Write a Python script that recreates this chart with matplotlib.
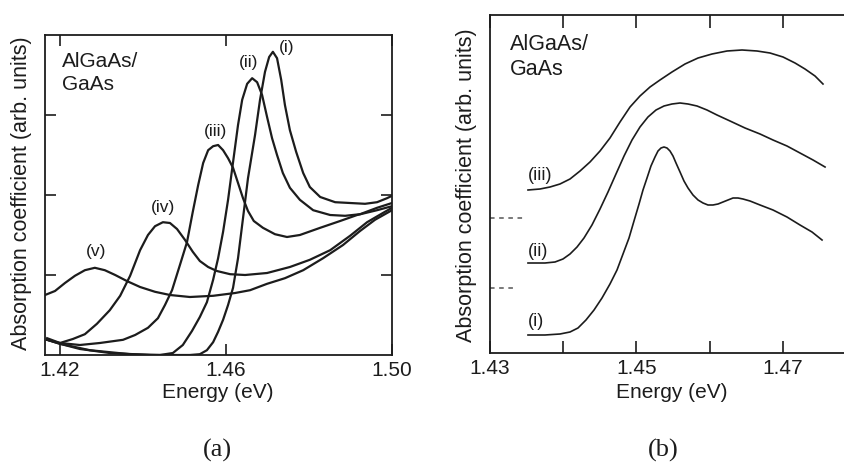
import matplotlib
matplotlib.use('Agg')
import matplotlib.pyplot as plt

plt.rcParams['font.family'] = ['Liberation Sans', 'DejaVu Sans']

# ---- panel (a): AlGaAs/GaAs absorption spectra, curves (i)-(v)
a_i_x = [1.4169, 1.4200, 1.4248, 1.4320, 1.4417, 1.4513, 1.4537, 1.4554, 1.4569, 1.4581,
         1.4593, 1.4605, 1.4617, 1.4629, 1.4641, 1.4653, 1.4670, 1.4682, 1.4694, 1.4704,
         1.4713, 1.4723, 1.4733, 1.4742, 1.4754, 1.4769, 1.4786, 1.4802, 1.4827, 1.4863,
         1.4899, 1.4935, 1.4964, 1.4988, 1.5000]
a_i_y = [0.19, 0.14, 0.075, 0.025, 0.0, 0.0, 0.01, 0.06, 0.16, 0.29,
         0.44, 0.625, 0.84, 1.21, 1.71, 2.21, 2.75, 3.19, 3.54, 3.725,
         3.79, 3.71, 3.44, 3.125, 2.81, 2.54, 2.275, 2.10, 1.975, 1.91,
         1.90, 1.89, 1.91, 1.96, 1.99]

a_ii_x = [1.4169, 1.4200, 1.4272, 1.4369, 1.4441, 1.4472, 1.4496, 1.4518, 1.4537, 1.4554,
          1.4569, 1.4581, 1.4593, 1.4605, 1.4617, 1.4629, 1.4639, 1.4651, 1.4663, 1.4675,
          1.4687, 1.4699, 1.4711, 1.4723, 1.4737, 1.4754, 1.4778, 1.4810, 1.4851, 1.4887,
          1.4923, 1.4964, 1.5000]
a_ii_y = [0.19, 0.14, 0.06, 0.01, 0.0, 0.025, 0.125, 0.30, 0.475, 0.66,
          0.94, 1.21, 1.54, 1.94, 2.41, 2.875, 3.19, 3.39, 3.46, 3.41,
          3.25, 2.975, 2.71, 2.50, 2.275, 2.09, 1.94, 1.81, 1.75, 1.74,
          1.76, 1.84, 1.90]

a_iii_x = [1.4169, 1.4200, 1.4248, 1.4296, 1.4352, 1.4381, 1.4412, 1.4436, 1.4453, 1.4470,
           1.4489, 1.4506, 1.4520, 1.4533, 1.4545, 1.4557, 1.4569, 1.4581, 1.4593, 1.4605,
           1.4617, 1.4629, 1.4641, 1.4653, 1.4667, 1.4689, 1.4718, 1.4747, 1.4778, 1.4827,
           1.4875, 1.4916, 1.4964, 1.5000]
a_iii_y = [0.19, 0.15, 0.125, 0.15, 0.19, 0.25, 0.34, 0.46, 0.625, 0.81,
           1.125, 1.41, 1.79, 2.125, 2.40, 2.56, 2.61, 2.625, 2.56, 2.46,
           2.34, 2.15, 1.96, 1.80, 1.675, 1.59, 1.51, 1.475, 1.50, 1.59,
           1.675, 1.75, 1.81, 1.86]

a_iv_x = [1.4169, 1.4200, 1.4231, 1.4260, 1.4289, 1.4320, 1.4345, 1.4369, 1.4393, 1.4412,
          1.4429, 1.4448, 1.4465, 1.4482, 1.4501, 1.4520, 1.4537, 1.4557, 1.4578, 1.4610,
          1.4646, 1.4699, 1.4754, 1.4802, 1.4851, 1.4899, 1.4940, 1.4978, 1.5000]
a_iv_y = [0.21, 0.15, 0.20, 0.26, 0.39, 0.56, 0.74, 0.99, 1.31, 1.50,
          1.61, 1.66, 1.65, 1.575, 1.44, 1.29, 1.175, 1.10, 1.05, 1.01,
          1.00, 1.025, 1.10, 1.19, 1.31, 1.49, 1.66, 1.775, 1.84]

a_v_x = [1.4164, 1.4188, 1.4212, 1.4236, 1.4260, 1.4284, 1.4308, 1.4333, 1.4361, 1.4393,
         1.4429, 1.4465, 1.4513, 1.4569, 1.4622, 1.4658, 1.4699, 1.4742, 1.4786, 1.4834,
         1.4882, 1.4923, 1.4959, 1.5000]
a_v_y = [0.75, 0.80, 0.90, 0.99, 1.06, 1.09, 1.06, 1.00, 0.925, 0.85,
         0.79, 0.75, 0.725, 0.74, 0.775, 0.81, 0.89, 0.96, 1.06, 1.21,
         1.375, 1.55, 1.69, 1.81]

a_labels = ['(i)', '(ii)', '(iii)', '(iv)', '(v)']
a_label_x = [1.4747, 1.4655, 1.4574, 1.4448, 1.4287]
a_label_y = [3.84, 3.65, 2.79, 1.84, 1.29]
a_xticks = [1.42, 1.46, 1.50]

# ---- panel (b): calculated spectra, curves offset vertically
b_i_x = [1.43519, 1.43751, 1.43956, 1.44093, 1.44202, 1.44311, 1.44421, 1.44530, 1.44639,
         1.44735, 1.44817, 1.44899, 1.44967, 1.45036, 1.45090, 1.45145, 1.45199, 1.45254,
         1.45295, 1.45336, 1.45377, 1.45418, 1.45459, 1.45500, 1.45541, 1.45596, 1.45650,
         1.45705, 1.45773, 1.45842, 1.45910, 1.45978, 1.46046, 1.46115, 1.46183, 1.46251,
         1.46320, 1.46388, 1.46456, 1.46552, 1.46689, 1.46866, 1.47057, 1.47235, 1.47399,
         1.47536]
b_i_y = [0.18, 0.18, 0.19, 0.21, 0.25, 0.33, 0.43, 0.55, 0.69,
         0.83, 0.99, 1.15, 1.32, 1.49, 1.63, 1.75, 1.87, 1.96,
         2.02, 2.05, 2.06, 2.05, 2.02, 1.97, 1.90, 1.81, 1.72,
         1.65, 1.58, 1.53, 1.50, 1.48, 1.48, 1.49, 1.51, 1.53,
         1.55, 1.55, 1.54, 1.52, 1.48, 1.43, 1.36, 1.28, 1.21,
         1.13]

b_ii_x = [1.43519, 1.43751, 1.43888, 1.43997, 1.44093, 1.44189, 1.44284, 1.44393, 1.44503,
          1.44612, 1.44721, 1.44831, 1.44940, 1.45049, 1.45158, 1.45268, 1.45377, 1.45486,
          1.45596, 1.45705, 1.45828, 1.45964, 1.46101, 1.46279, 1.46484, 1.46689, 1.46866,
          1.47057, 1.47235, 1.47413, 1.47577]
b_ii_y = [0.90, 0.90, 0.91, 0.94, 0.99, 1.06, 1.15, 1.28, 1.44,
          1.61, 1.79, 1.97, 2.13, 2.26, 2.36, 2.43, 2.47, 2.49,
          2.50, 2.49, 2.47, 2.43, 2.38, 2.32, 2.25, 2.19, 2.13,
          2.07, 2.00, 1.93, 1.86]

b_iii_x = [1.43519, 1.43683, 1.43820, 1.43956, 1.44093, 1.44230, 1.44366, 1.44503, 1.44639,
           1.44776, 1.44913, 1.45049, 1.45186, 1.45322, 1.45486, 1.45664, 1.45842, 1.46033,
           1.46238, 1.46443, 1.46648, 1.46825, 1.47003, 1.47167, 1.47303, 1.47440, 1.47549]
b_iii_y = [1.63, 1.64, 1.66, 1.69, 1.74, 1.82, 1.91, 2.02, 2.15,
           2.31, 2.46, 2.57, 2.66, 2.73, 2.81, 2.89, 2.95, 2.99,
           3.02, 3.03, 3.02, 3.00, 2.96, 2.90, 2.84, 2.77, 2.69]

b_labels = ['(i)', '(ii)', '(iii)']
b_label_y = [0.31, 1.02, 1.77]
b_zero_levels = [0.65, 1.35]
b_zero_ends = [1.4334, 1.4348]
b_xticks = [1.43, 1.44, 1.45, 1.46, 1.47]
b_xticklabels = ['1.43', '', '1.45', '', '1.47']

ink = '#1c1c1c'

fig = plt.figure(figsize=(8.45, 4.67), dpi=100)

# panel (a)
ax1 = fig.add_axes([45 / 845, 1 - 355 / 467, 347 / 845, 320 / 467])
for xs, ys in [(a_i_x, a_i_y), (a_ii_x, a_ii_y), (a_iii_x, a_iii_y),
               (a_iv_x, a_iv_y), (a_v_x, a_v_y)]:
    ax1.plot(xs, ys, color=ink, lw=1.6, solid_joinstyle='round')
for lab, lx, ly in zip(a_labels, a_label_x, a_label_y):
    ax1.text(lx, ly, lab, fontsize=12.5, ha='center', va='center', color=ink)
ax1.text(1.4205, 3.79, 'AlGaAs/\nGaAs', fontsize=15, ha='left', va='top',
         linespacing=1.25, color=ink)
ax1.set_xlim(1.41639, 1.50)
ax1.set_ylim(0, 4.0)
ax1.set_xticks(a_xticks)
ax1.set_xticklabels(['%.2f' % t for t in a_xticks])
ax1.set_yticks([1, 2, 3])
ax1.set_yticklabels([])
ax1.tick_params(direction='in', top=True, right=True, length=8, width=1.2,
                labelsize=15, pad=4, colors=ink)
for s in ax1.spines.values():
    s.set_linewidth(1.3)
    s.set_color(ink)

# panel (b)
ax2 = fig.add_axes([490 / 845, 1 - 353 / 467, 360 / 845, 338 / 467])
for xs, ys in [(b_i_x, b_i_y), (b_ii_x, b_ii_y), (b_iii_x, b_iii_y)]:
    ax2.plot(xs, ys, color=ink, lw=1.2, solid_joinstyle='round')
for lab, ly in zip(b_labels, b_label_y):
    ax2.text(1.4352, ly, lab, fontsize=13, ha='left', va='center', color=ink)
for lvl, end in zip(b_zero_levels, b_zero_ends):
    ax2.plot([1.43, end], [lvl, lvl], color='#555555', lw=1.1, ls=(0, (3, 3)))
ax2.text(1.4327, 3.19, 'AlGaAs/\nGaAs', fontsize=15.5, ha='left', va='top',
         linespacing=1.25, color=ink)
ax2.set_xlim(1.43, 1.47918)
ax2.set_ylim(0, 3.38)
ax2.set_xticks(b_xticks)
ax2.set_xticklabels(b_xticklabels)
ax2.set_yticks([])
ax2.spines['right'].set_visible(False)
ax2.tick_params(direction='in', top=True, length=9, width=1.2,
                labelsize=15, pad=4, colors=ink)
for s in ax2.spines.values():
    s.set_linewidth(1.3)
    s.set_color(ink)

# axis titles and panel letters
fig.text(218 / 845, 1 - 393 / 467, 'Energy (eV)', fontsize=15, ha='center', va='center', color=ink)
fig.text(672 / 845, 1 - 393 / 467, 'Energy (eV)', fontsize=15, ha='center', va='center', color=ink)
fig.text(22 / 845, 1 - 193 / 467, 'Absorption coefficient (arb. units)', fontsize=15.5,
         rotation=90, ha='center', va='center', color=ink)
fig.text(467 / 845, 1 - 185 / 467, 'Absorption coefficient (arb. units)', fontsize=15.5,
         rotation=90, ha='center', va='center', color=ink)
fig.text(217 / 845, 1 - 450 / 467, '(a)', fontsize=19, family='Liberation Serif',
         ha='center', va='center', color=ink)
fig.text(663 / 845, 1 - 450 / 467, '(b)', fontsize=19, family='Liberation Serif',
         ha='center', va='center', color=ink)

fig.savefig('out.png', dpi=100)
